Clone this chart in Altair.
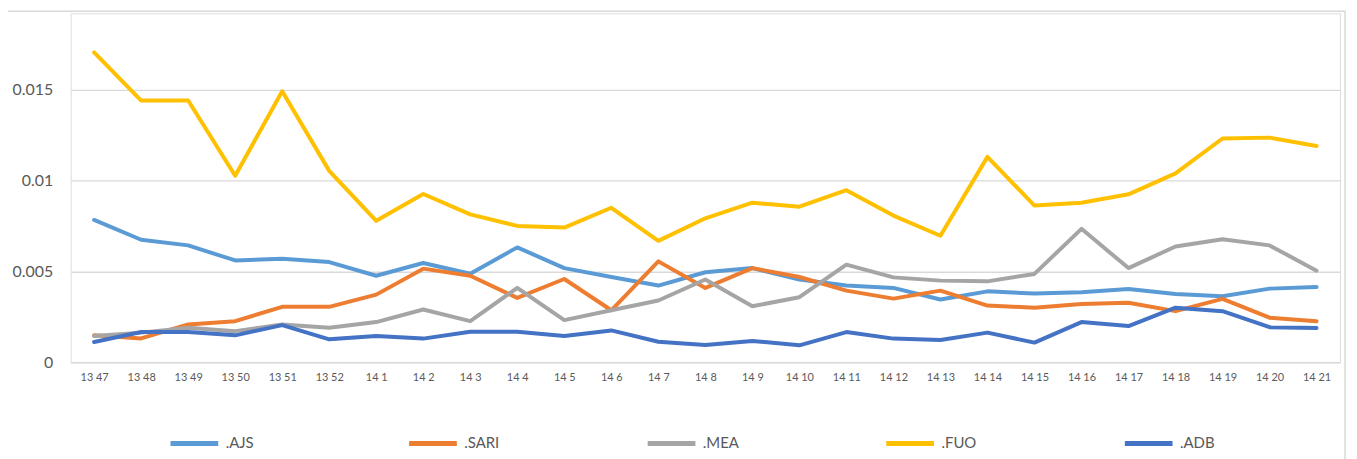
import altair as alt
import pandas as pd

weeks = ["13 47", "13 48", "13 49", "13 50", "13 51", "13 52", "14 1", "14 2", "14 3",
         "14 4", "14 5", "14 6", "14 7", "14 8", "14 9", "14 10", "14 11", "14 12",
         "14 13", "14 14", "14 15", "14 16", "14 17", "14 18", "14 19", "14 20", "14 21"]

ajs = [0.00783, 0.00674, 0.00643, 0.00560, 0.00570, 0.00551, 0.00476, 0.00546, 0.00487,
       0.00632, 0.00518, 0.00469, 0.00422, 0.00495, 0.00518, 0.00455, 0.00422, 0.00409,
       0.00345, 0.00390, 0.00378, 0.00385, 0.00403, 0.00376, 0.00363, 0.00405, 0.00414]
sari = [0.00148, 0.00131, 0.00208, 0.00226, 0.00305, 0.00305, 0.00372, 0.00515, 0.00476,
        0.00354, 0.00458, 0.00286, 0.00555, 0.00409, 0.00518, 0.00469, 0.00394, 0.00350,
        0.00394, 0.00312, 0.00300, 0.00321, 0.00327, 0.00281, 0.00349, 0.00245, 0.00226]
mea = [0.00144, 0.00163, 0.00190, 0.00171, 0.00208, 0.00190, 0.00221, 0.00290, 0.00226,
       0.00409, 0.00232, 0.00286, 0.00340, 0.00455, 0.00308, 0.00358, 0.00537, 0.00467,
       0.00449, 0.00445, 0.00486, 0.00734, 0.00518, 0.00637, 0.00677, 0.00643, 0.00504]
fuo = [0.01705, 0.01440, 0.01440, 0.01026, 0.01491, 0.01053, 0.00778, 0.00926, 0.00814,
       0.00750, 0.00741, 0.00850, 0.00668, 0.00792, 0.00878, 0.00856, 0.00947, 0.00807,
       0.00696, 0.01130, 0.00862, 0.00878, 0.00924, 0.01039, 0.01231, 0.01236, 0.01190]
adb = [0.00111, 0.00166, 0.00166, 0.00148, 0.00204, 0.00126, 0.00144, 0.00130, 0.00168,
       0.00168, 0.00144, 0.00175, 0.00113, 0.00095, 0.00117, 0.00093, 0.00166, 0.00130,
       0.00122, 0.00163, 0.00108, 0.00221, 0.00199, 0.00300, 0.00281, 0.00193, 0.00188]

series_names = [".AJS", ".SARI", ".MEA", ".FUO", ".ADB"]
series_colors = ["#5B9BD5", "#ED7D31", "#A5A5A5", "#FFC000", "#4472C4"]
y_ticks = [0, 0.005, 0.01, 0.015]

rows = []
for name, vals in zip(series_names, [ajs, sari, mea, fuo, adb]):
    for i, (w, v) in enumerate(zip(weeks, vals)):
        rows.append({"week": w, "series": name, "value": v, "order": i})
df = pd.DataFrame(rows)

FONT = "Lato"
TXT = "#595959"
GRID = "#D9D9D9"

lines = alt.Chart(df).mark_line(strokeWidth=4, strokeJoin="round", strokeCap="round").encode(
    x=alt.X("week:N", sort=weeks, scale=alt.Scale(type="point", padding=0.5),
            axis=alt.Axis(title=None, labelAngle=0, ticks=False, domain=False, grid=False,
                          labelFont=FONT, labelFontSize=11, labelColor=TXT, labelPadding=9)),
    y=alt.Y("value:Q", scale=alt.Scale(domain=[0, 0.0192], nice=False),
            axis=alt.Axis(title=None, values=y_ticks, format="~g", ticks=False, domain=False,
                          grid=True, gridColor=GRID, gridWidth=1.3,
                          labelFont=FONT, labelFontSize=16, labelColor=TXT, labelPadding=18)),
    color=alt.Color("series:N", sort=series_names,
                    scale=alt.Scale(domain=series_names, range=series_colors),
                    legend=alt.Legend(title=None, orient="none", direction="horizontal",
                                      columns=5, legendX=98, legendY=406,
                                      symbolType="stroke", symbolSize=2304,
                                      symbolStrokeWidth=5, labelFont=FONT, labelFontSize=15,
                                      labelColor=TXT, labelOffset=5, columnPadding=137,
                                      gridAlign="all", padding=0)),
    order=alt.Order("order:Q"),
    detail="series:N",
)

frame = alt.Chart(pd.DataFrame({"a": [0]})).mark_rect(
    fill=None, stroke=GRID, strokeWidth=1.5
).encode(
    x=alt.value(-67), x2=alt.value(1282), y=alt.value(-2), y2=alt.value(470)
)

chart = alt.layer(frame, lines).properties(
    width=1277, height=351,
    autosize=alt.AutoSizeParams(type="none"),
    padding={"left": 63, "top": 4, "right": 9, "bottom": 96},
).configure_view(stroke=None).configure(background="white")

chart.save("out.html", embed_options={"renderer": "svg", "actions": False})
